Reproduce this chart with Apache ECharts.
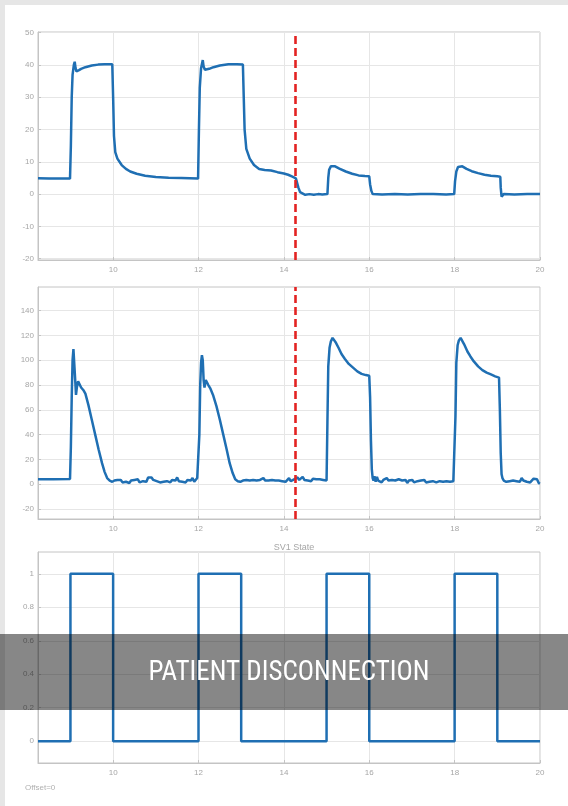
<!DOCTYPE html>
<html><head><meta charset="utf-8">
<script src="https://cdn.jsdelivr.net/npm/echarts@6/dist/echarts.min.js"></script>
<style>html,body{margin:0;padding:0;background:#ffffff;overflow:hidden}#c{width:568px;height:806px;position:absolute;left:0;top:0;background:#ffffff}</style>
</head><body><div id="c"></div>
<script>
// ---- data (time in s) ----
const xTicks = [10, 12, 14, 16, 18, 20];
const pressureTicks = [-20, -10, 0, 10, 20, 30, 40, 50];
const flowTicks = [-20, 0, 20, 40, 60, 80, 100, 120, 140];
const stateTicks = [0, 0.2, 0.4, 0.6, 0.8, 1];
const disconnectTime = 14.27;
const stateTitle = 'SV1 State';
const offsetNote = 'Offset=0';
const bannerText = 'PATIENT DISCONNECTION';

const pressure = [
[8.24,4.9],[8.5,4.8],[8.8,4.8],[8.99,4.8],[9.01,15],[9.03,30],[9.05,37],[9.08,40],[9.1,41],[9.12,39],[9.14,38],[9.16,38.6],[9.2,38.4],[9.25,38.8],[9.35,39.3],[9.5,39.8],[9.65,40.1],[9.8,40.2],[9.98,40.2],[10.0,30],[10.02,18],[10.05,13],[10.1,11],[10.2,9],[10.3,7.8],[10.4,7],[10.55,6.3],[10.75,5.7],[11.0,5.3],[11.3,5.1],[11.6,5.0],[11.99,4.8],[12.01,20],[12.03,33],[12.06,39],[12.1,41.5],[12.12,39.5],[12.15,38.5],[12.18,39],[12.25,38.8],[12.35,39.3],[12.5,39.8],[12.7,40.2],[12.9,40.2],[13.04,40.1],[13.06,30],[13.08,20],[13.12,14],[13.2,11],[13.3,9],[13.42,7.8],[13.55,7.5],[13.7,7.3],[13.85,6.8],[14.0,6.4],[14.1,6],[14.2,5.4],[14.28,4.9],[14.3,4],[14.34,2],[14.38,0.6],[14.42,0],[14.5,-0.2],[14.6,0],[14.7,-0.2],[14.8,0],[14.9,-0.1],[15.02,0],[15.04,5],[15.06,7.5],[15.1,8.6],[15.14,9],[15.2,8.6],[15.3,7.9],[15.45,7],[15.6,6.3],[15.75,5.8],[15.9,5.6],[16.0,5.5],[16.02,3],[16.05,1],[16.08,0],[16.1,-0.6],[16.12,0],[16.3,-0.1],[16.6,0],[16.9,-0.1],[17.2,0],[17.5,0],[17.8,-0.1],[17.99,0],[18.01,4],[18.04,7],[18.08,8.4],[18.12,8.8],[18.18,8.6],[18.28,7.8],[18.4,7.1],[18.55,6.5],[18.7,6],[18.85,5.7],[19.0,5.5],[19.07,5.4],[19.08,2],[19.1,-0.8],[19.12,-0.2],[19.15,0],[19.4,-0.1],[19.7,0],[20,0]
];

const flow = [
[8.24,4],[8.6,4],[8.99,4.2],
[9.01,30],[9.03,70],[9.05,100],[9.07,109],[9.09,108],[9.11,85],[9.13,72],[9.15,78],[9.18,83],[9.21,82],[9.25,78],[9.3,76],[9.35,73],[9.42,64],[9.5,52],[9.58,40],[9.66,28],[9.74,17],[9.8,10],[9.86,5],[9.92,3],[9.98,2],
[10.03,3],[10.06,4.5],[10.1,3.5],[10.14,2],[10.18,3.5],[10.22,1.5],[10.26,3],[10.3,2],[10.34,3.5],[10.38,1],[10.42,3],[10.46,1.5],[10.5,3.5],[10.54,2],[10.58,4],[10.62,1.5],[10.66,3],[10.7,2.5],[10.74,3.5],[10.78,2],[10.82,5.5],[10.86,4.5],[10.9,5.5],[10.94,3.5],[10.98,5],[11.02,2.5],[11.06,3.5],[11.1,1.5],[11.14,3],[11.18,2],[11.22,3.5],[11.26,2.5],[11.3,3],[11.34,1.5],[11.38,3.5],[11.42,2.5],[11.46,3],[11.5,5.5],[11.54,2.5],[11.58,3.5],[11.62,2],[11.66,3],[11.7,1.5],[11.74,3.5],[11.78,2.5],[11.82,3],[11.86,5],[11.9,2],[11.94,3.5],[11.97,5],
[12.0,4],[12.02,40],[12.04,80],[12.06,98],[12.08,104],[12.1,100],[12.12,84],[12.14,78],[12.17,84],[12.2,85],[12.23,80],[12.28,77],[12.34,72],[12.42,63],[12.5,52],[12.58,40],[12.66,28],[12.73,17],[12.8,9],[12.86,4],[12.92,2.5],[12.98,2],
[13.04,3],[13.08,2],[13.12,3.5],[13.16,2.5],[13.2,3],[13.24,2],[13.28,3.5],[13.32,2.5],[13.36,3],[13.4,2],[13.44,3.5],[13.48,2],[13.52,5],[13.56,3],[13.6,1.5],[13.64,3],[13.68,2],[13.72,3.5],[13.76,2.5],[13.8,3],[13.84,1.5],[13.88,3],[13.92,4.5],[13.96,2.5],[14.0,3.5],[14.04,2],[14.08,3],[14.12,5],[14.16,2.5],[14.2,3],[14.24,4],[14.28,2.5],[14.32,5.5],[14.36,3.5],[14.4,4.5],[14.44,6],[14.48,3.5],[14.52,5],[14.56,3],[14.6,4],[14.64,2.5],[14.68,4.5],[14.72,3],[14.76,4],[14.8,2.5],[14.84,4],[14.88,3],[14.92,3.5],[14.96,2.5],[15.0,3],
[15.02,50],[15.04,95],[15.07,110],[15.1,115],[15.14,118],[15.18,117],[15.22,114],[15.28,110],[15.35,105],[15.43,101],[15.52,97],[15.62,94],[15.72,91],[15.82,89],[15.92,88],[16.0,87.5],[16.02,70],[16.04,35],[16.06,12],[16.08,5],
[16.1,3],[16.12,6.5],[16.15,2],[16.18,6],[16.21,3],[16.25,4.5],[16.29,1.5],[16.33,3.5],[16.37,2],[16.41,5],[16.45,3],[16.49,2],[16.53,3.5],[16.57,2.5],[16.61,3],[16.65,1.5],[16.69,4],[16.73,2.5],[16.77,3],[16.81,2],[16.85,3.5],[16.89,1],[16.93,3],[16.97,2],[17.01,3.5],[17.05,1.5],[17.09,3],[17.13,2.5],[17.17,1],[17.21,3],[17.25,2],[17.29,3.5],[17.33,1.5],[17.37,3],[17.41,2],[17.45,3.5],[17.49,2.5],[17.53,3],[17.57,1.5],[17.61,3],[17.65,2.5],[17.69,3.5],[17.73,2],[17.77,3],[17.81,2.5],[17.85,3.5],[17.89,2],[17.93,3],[17.97,2.5],
[18.0,3],[18.02,55],[18.04,98],[18.07,112],[18.1,116],[18.14,118],[18.18,117],[18.22,113],[18.26,110],[18.3,107],[18.37,103],[18.45,99],[18.55,95],[18.65,92],[18.75,90],[18.85,88.5],[18.95,87],[19.04,86],[19.06,60],[19.08,25],[19.1,8],
[19.12,5],[19.15,3],[19.18,4.5],[19.21,2],[19.25,3.5],[19.29,2.5],[19.33,4],[19.37,3],[19.41,4.5],[19.45,2.5],[19.49,3],[19.53,2],[19.57,5],[19.61,3],[19.65,3.5],[19.69,2],[19.73,3],[19.77,1.5],[19.81,2.5],[19.85,4.5],[19.89,3],[19.93,4],[19.97,1],[20,0.5]
];

const state = [[8.24,0],[9,0],[9,1],[10,1],[10,0],[12,0],[12,1],[13,1],[13,0],[15,0],[15,1],[16,1],[16,0],[18,0],[18,1],[19,1],[19,0],[20,0]];

// ---- chart ----
const chart = echarts.init(document.getElementById('c'), null, {renderer: 'canvas', width: 568, height: 806});
const axisGray = '#c4c4c4';
const gridGray = '#e6e6e6';
const lab = {color: '#a6a6a6', fontSize: 8, fontFamily: '"Liberation Sans", Arial, sans-serif'};
const blue = '#1f6fb3';

function mkX(i) {
  return {
    type: 'value', gridIndex: i, min: 8.24, max: 20,
    axisLine: {show: true, onZero: false, lineStyle: {color: axisGray}},
    axisTick: {show: true, inside: true, length: 3, customValues: xTicks, lineStyle: {color: axisGray}},
    axisLabel: Object.assign({}, lab, {customValues: xTicks, margin: 6}),
    splitLine: {show: true, lineStyle: {color: gridGray, width: 1}}
  };
}
function mkY(i, min, max, ticks) {
  return {
    type: 'value', gridIndex: i, min: min, max: max,
    axisLine: {show: true, onZero: false, lineStyle: {color: axisGray}},
    axisTick: {show: true, inside: true, length: 3, customValues: ticks, lineStyle: {color: axisGray}},
    axisLabel: Object.assign({}, lab, {customValues: ticks, margin: 4, formatter: v => String(Math.round(v * 10) / 10)}),
    splitLine: {show: true, lineStyle: {color: gridGray, width: 1}}
  };
}
const redLine = {
  symbol: 'none', silent: true, label: {show: false},
  lineStyle: {color: '#e32322', type: [8, 4], width: 2.6},
  data: [{xAxis: disconnectTime}]
};
function mkSeries(i, data, withMark) {
  const s = {
    type: 'line', xAxisIndex: i, yAxisIndex: i, data: data,
    showSymbol: false, symbol: 'none', animation: false,
    lineStyle: {color: blue, width: 2.5}, itemStyle: {color: blue}
  };
  if (withMark) s.markLine = redLine;
  return s;
}

chart.setOption({
  animation: false,
  backgroundColor: '#ffffff',
  title: [
    {text: stateTitle, left: 289, top: 538, textAlign: 'center',
     textStyle: {color: '#a6a6a6', fontSize: 9, fontWeight: 'normal', fontFamily: '"Liberation Sans", Arial, sans-serif'}},
    {text: offsetNote, left: 20, top: 779,
     textStyle: {color: '#b0b0b0', fontSize: 8, fontWeight: 'normal', fontFamily: '"Liberation Sans", Arial, sans-serif'}}
  ],
  grid: [
    {left: 38, top: 32, width: 502, height: 228, show: true, borderColor: axisGray, borderWidth: 1, backgroundColor: 'transparent'},
    {left: 38, top: 287, width: 502, height: 232, show: true, borderColor: axisGray, borderWidth: 1, backgroundColor: 'transparent'},
    {left: 38, top: 552, width: 502, height: 211, show: true, borderColor: axisGray, borderWidth: 1, backgroundColor: 'transparent'}
  ],
  xAxis: [mkX(0), mkX(1), mkX(2)],
  yAxis: [mkY(0, -20.4, 50.2, pressureTicks), mkY(1, -28, 159, flowTicks), mkY(2, -0.13, 1.13, stateTicks)],
  series: [mkSeries(0, pressure, true), mkSeries(1, flow, true), mkSeries(2, state, false)],
  graphic: [
    {type: 'rect', z: 0, shape: {x: 0, y: 0, width: 568, height: 5}, style: {fill: '#e6e6e6'}, silent: true},
    {type: 'rect', z: 0, shape: {x: 0, y: 0, width: 5, height: 806}, style: {fill: '#e6e6e6'}, silent: true},
    {type: 'rect', z: 100, shape: {x: 0, y: 634, width: 568, height: 76}, style: {fill: 'rgba(0,0,0,0.47)'}, silent: true},
    {type: 'text', z: 101, silent: true,
     style: {x: 289, y: 673, text: bannerText, fill: '#ffffff', align: 'center', verticalAlign: 'middle',
             fontSize: 27, fontFamily: '"Liberation Sans Narrow", "Roboto Condensed", "Arial Narrow", sans-serif'}}
  ]
});
</script>
</body></html>
